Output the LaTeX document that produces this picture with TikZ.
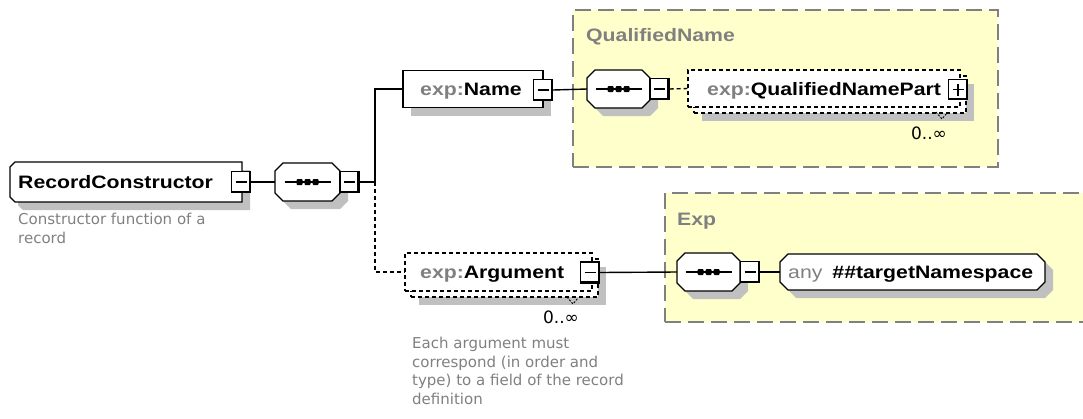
\documentclass[tikz,border=0pt]{standalone}
\usepackage{fontspec}
\setmainfont{Liberation Sans}
\newfontfamily\lblfont[FakeStretch=1.18]{Liberation Sans}
\newfontfamily\descfont{DejaVu Sans}
\usetikzlibrary{shadows}
\definecolor{grpfill}{HTML}{FFFFCC}
\definecolor{grpline}{HTML}{808080}
\definecolor{shgray}{HTML}{C0C0C0}
\definecolor{txtgray}{HTML}{808080}
\tikzset{
  shadowed/.style={drop shadow={shadow xshift=8pt, shadow yshift=-8pt, fill=shgray, opacity=1}},
  frame/.style={inner sep=0pt, outer sep=0pt},
  elem/.style={draw, line width=1.3pt, fill=white, inner sep=0pt, shadowed},
  outl/.style={draw, line width=1.3pt, fill=white},
  shp/.style={fill=shgray, transform canvas={shift={(8pt,-8pt)}}},
  octo/.style 2 args={insert path={([xshift=#2]#1.north west) -- ([xshift=-#2]#1.north east)
      -- ([yshift=-#2]#1.north east) -- ([yshift=#2]#1.south east) -- ([xshift=-#2]#1.south east)
      -- ([xshift=#2]#1.south west) -- ([yshift=#2]#1.south west) -- ([yshift=-#2]#1.north west) -- cycle}},
  lchamf/.style 2 args={insert path={([xshift=#2]#1.north west) -- (#1.north east) -- (#1.south east)
      -- ([xshift=#2]#1.south west) -- ([yshift=#2]#1.south west) -- ([yshift=-#2]#1.north west) -- cycle}},
  multbox/.style={draw, line width=1.3pt, dash pattern=on 4pt off 3pt, fill=white, inner sep=0pt},
  mbox/.style={draw, line width=1.3pt, fill=white, inner sep=0pt, minimum width=19pt, minimum height=21pt,
    path picture={\draw[line width=1.3pt] ([xshift=4pt]path picture bounding box.west) -- ([xshift=-4pt]path picture bounding box.east);}},
  pbox/.style={mbox, minimum height=20pt,
    path picture={\draw[line width=1.3pt] ([xshift=4pt]path picture bounding box.west) -- ([xshift=-4pt]path picture bounding box.east);
      \draw[line width=1.3pt] ([yshift=-4pt]path picture bounding box.north) -- ([yshift=4pt]path picture bounding box.south);}},
  grp/.style={draw=grpline, line width=1.3pt, dash pattern=on 16pt off 7pt, fill=grpfill, inner sep=0pt},
  lbl/.style={font=\lblfont\bfseries\fontsize{18}{20}\selectfont, inner sep=0pt, anchor=base west},
  ttl/.style={lbl, text=txtgray},
  desc/.style={font=\descfont\fontsize{15}{18.5}\selectfont, text=txtgray, inner sep=0pt, align=left, anchor=north west},
  occ/.style={font=\descfont\fontsize{17}{19}\selectfont, inner sep=0pt, anchor=base},
  conn/.style={line width=1.4pt},
  dconn/.style={conn, dash pattern=on 4pt off 3pt},
  tick/.style={line width=0.9pt, dash pattern=on 2pt off 1.5pt},
}
\begin{document}
\begin{tikzpicture}[x=1pt,y=-1pt]
\useasboundingbox (0,0) rectangle (1083,418);
% groups
\node[grp, minimum width=425pt, minimum height=157pt] (gqn) at (785.5,88.5) {};
\node[ttl] (gqnt) at (586,41) {QualifiedName};
\node[grp, minimum width=430pt, minimum height=129pt] (gexp) at (880,257.5) {};
\node[ttl] (gexpt) at (677,225) {Exp};

% frames of the chamfered shapes (drawn below)
\node[frame, minimum width=232pt, minimum height=40pt] (rc) at (126,182) {};
\node[frame, minimum width=65pt, minimum height=38pt] (seq1) at (307.5,182) {};
\node[frame, minimum width=63pt, minimum height=38pt] (seq2) at (618.5,89) {};
\node[frame, minimum width=63pt, minimum height=38pt] (seq3) at (708.5,272) {};
\node[frame, minimum width=265pt, minimum height=36pt] (any) at (912.5,272) {};

\fill[shp, lchamf={rc}{5pt}];
\draw[outl, lchamf={rc}{5pt}];
\foreach \s in {seq1,seq2,seq3,any} {
  \fill[shp, octo={\s}{8pt}];
  \draw[outl, octo={\s}{8pt}];
}
\foreach \s in {seq1,seq2,seq3} {
  \draw[line width=1.4pt] ([xshift=-23pt]\s.center) -- ([xshift=23pt]\s.center);
  \foreach \d in {-8,0,8}
    \fill[rounded corners=1pt] ([xshift=\d pt]\s.center) +(-3pt,-3pt) rectangle +(3pt,3pt);
}

% root element
\node[lbl] (rct) at (18,188) {RecordConstructor};
\node[mbox] (rcm) at (241,182) {};
\node[desc] (rcd) at (18,213) {Constructor function of a\\record};

% sequence 1
\node[mbox] (s1m) at (349.5,182) {};
\coordinate (j) at (375,182);

% exp:Name
\node[elem, minimum width=140pt, minimum height=37pt] (name) at (473,89) {};
\node[lbl] (namet) at (420,95) {\textcolor{txtgray}{exp:}Name};
\node[mbox] (nm) at (543,90) {};

% sequence 2
\node[mbox] (s2m) at (659.5,89) {};

% exp:QualifiedNamePart (multiple)
\node[multbox, shadowed, minimum width=272pt, minimum height=37pt] (qnpb) at (830,94.5) {};
\node[multbox, minimum width=272pt, minimum height=37pt] (qnp) at (824,88.5) {};
\node[lbl] (qnpt) at (707,95) {\textcolor{txtgray}{exp:}QualifiedNamePart};
\node[pbox] (qpp) at (958,89.5) {};
\node[occ] (qnpo) at (929,139) {0..∞};
\draw[tick] (936,112) -- (942,119) -- (947,113);

% exp:Argument (multiple, optional)
\node[multbox, shadowed, minimum width=187pt, minimum height=38pt] (argb) at (504.5,278) {};
\node[multbox, minimum width=187pt, minimum height=38pt] (arg) at (498.5,272) {};
\node[lbl] (argt) at (420,278) {\textcolor{txtgray}{exp:}Argument};
\node[mbox] (am) at (590,272.5) {};
\node[occ] (argo) at (561,323) {0..∞};
\draw[tick] (567,297) -- (573,304) -- (578,298);
\node[desc] (argd) at (412,337) {Each argument must\\correspond (in order and\\type) to a field of the record\\definition};

% sequence 3
\node[mbox] (s3m) at (750,272) {};

% any
\node[lbl] (anyt) at (788,278) {\textcolor{txtgray}{\mdseries any}\hspace{10pt}\#\#targetNamespace};

% thick right/bottom edges of the small boxes
\foreach \n in {rcm,s1m,nm,s2m,qpp,am,s3m}
  \draw[line width=2.6pt] ([xshift=-1pt]\n.north east) -- ([xshift=-1pt,yshift=1pt]\n.south east) -- ([yshift=1pt]\n.south west);

% connectors
\draw[conn] (rcm.east) -- (seq1.west);
\draw[conn] (s1m.east) -- (j);
\draw[conn] (j) |- (name.west);
\draw[dconn] (j) |- (arg.west);
\draw[conn] (nm.east) -- (seq2.west);
\draw[dconn] (s2m.east) -- (qnp.west);
\draw[conn] (am.east) -- (seq3.west);
\draw[conn] (s3m.east) -- (any.west);
\end{tikzpicture}
\end{document}
